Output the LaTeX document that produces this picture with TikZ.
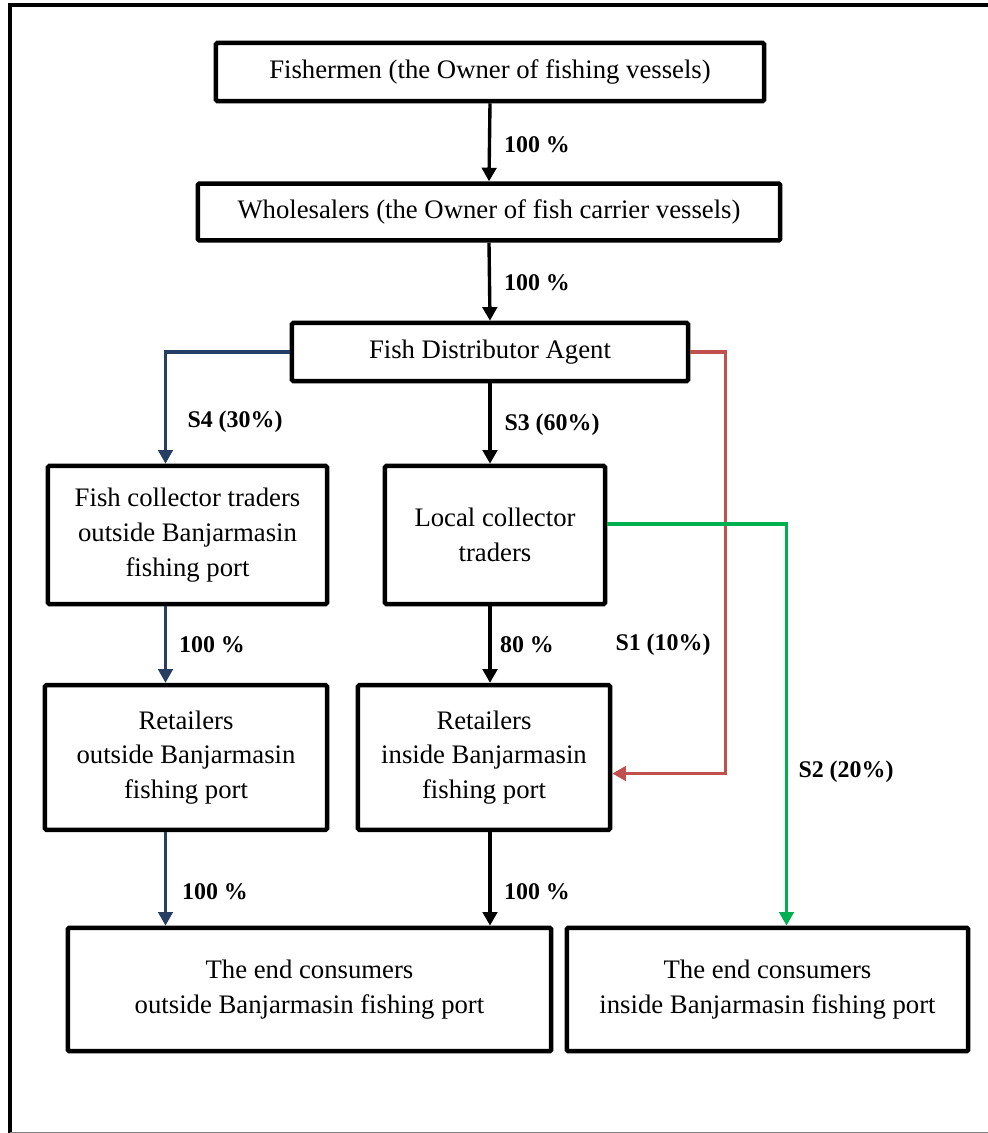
\documentclass[tikz,border=0pt]{standalone}
\usepackage{fontspec}
\setmainfont{Liberation Serif}
\usetikzlibrary{arrows.meta}
\usetikzlibrary{calc}
\definecolor{flowblue}{RGB}{38,62,100}
\definecolor{flowred}{RGB}{192,80,77}
\definecolor{flowgreen}{RGB}{0,176,80}
\begin{document}
\begin{tikzpicture}[x=0.025cm,y=-0.025cm,
    box/.style={draw,line width=3.2pt,rounded corners=1pt,align=center,inner sep=0pt,
        font=\fontsize{19}{24.8}\selectfont},
    lbl/.style={font=\fontsize{17}{20}\selectfont\bfseries,inner sep=0pt},
    flow/.style={line width=2.4pt,-{Triangle[length=0.34cm,width=0.36cm]}},
    flowb/.style={flow,flowblue,line width=2.2pt},
    flowr/.style={flow,flowred,line width=2.2pt},
    flowg/.style={flow,flowgreen,line width=2.2pt}]
    \useasboundingbox (0,0) rectangle (988,1133);
    \draw[line width=2.8pt] (10,1133) -- (10,5) -- (988,5);
    \draw[gray,line width=0.6pt] (10,1132) -- (988,1132);

    \node[box,minimum width=13.7cm,minimum height=1.45cm] (fisher) at (490,72)
    {Fishermen (the Owner of fishing vessels)};
    \node[box,minimum width=14.55cm,minimum height=1.42cm] (whole) at (489,212)
    {Wholesalers (the Owner of fish carrier vessels)};
    \node[box,minimum width=9.9cm,minimum height=1.45cm] (agent) at (490,352)
    {Fish Distributor Agent};
    \node[box,minimum width=6.98cm,minimum height=3.45cm] (collout) at (187.5,535)
    {Fish collector traders\\outside Banjarmasin\\fishing port};
    \node[box,minimum width=5.5cm,minimum height=3.45cm] (collloc) at (495,535)
    {Local collector\\traders};
    \node[box,minimum width=7.05cm,minimum height=3.62cm] (retout) at (186,757.5)
    {Retailers\\outside Banjarmasin\\fishing port};
    \node[box,minimum width=6.3cm,minimum height=3.62cm] (retin) at (484,757.5)
    {Retailers\\inside Banjarmasin\\fishing port};
    \node[box,minimum width=12.08cm,minimum height=3.08cm] (endout) at (309.5,989.5)
    {The end consumers\\outside Banjarmasin fishing port};
    \node[box,minimum width=10.03cm,minimum height=3.08cm] (endin) at (767.5,989.5)
    {The end consumers\\inside Banjarmasin fishing port};

    \draw[flow] (fisher.south) -- (whole.north);
    \draw[flow] (whole.south) -- (agent.north);
    \draw[flow] (agent.south) -- (agent.south |- collloc.north);
    \draw[flow] (agent.south |- collloc.south) -- (agent.south |- retin.north);
    \draw[flow] (agent.south |- retin.south) -- (agent.south |- endout.north);
    \draw[flowb] (agent.west) -| ([xshift=-0.55cm]collout.north);
    \draw[flowb] ([xshift=-0.55cm]collout.south) -- ([xshift=-0.55cm]collout.south |- retout.north);
    \draw[flowb] ([xshift=-0.55cm]collout.south |- retout.south) -- ([xshift=-0.55cm]collout.south |- endout.north);
    \draw[flowr] (agent.east) -- ++(0.875cm,0) |- ([yshift=-0.4cm]retin.east);
    \draw[flowg] ([yshift=0.275cm]collloc.east) -| ([xshift=0.475cm]endin.north);

    \node[lbl] (p1) at (537,145) {100 \%};
    \node[lbl] (p2) at (537,283) {100 \%};
    \node[lbl] (s4) at (235,422) {S4 (30\%)};
    \node[lbl] (s3) at (552,425) {S3 (60\%)};
    \node[lbl] (p3) at (212,645) {100 \%};
    \node[lbl] (p4) at (527,645) {80 \%};
    \node[lbl] (s1) at (663,645) {S1 (10\%)};
    \node[lbl] (s2) at (846,772) {S2 (20\%)};
    \node[lbl] (p5) at (215,892) {100 \%};
    \node[lbl] (p6) at (537,892) {100 \%};
\end{tikzpicture}
\end{document}
